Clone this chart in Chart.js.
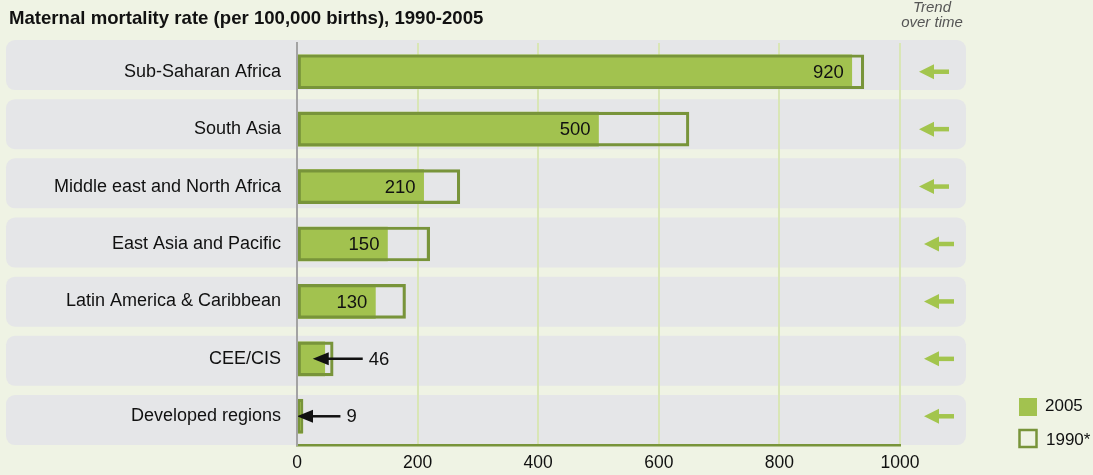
<!DOCTYPE html>
<html>
<head>
<meta charset="utf-8">
<script src="https://cdn.jsdelivr.net/npm/chart.js@4.4.1/dist/chart.umd.min.js"></script>
<style>
  html, body { margin: 0; padding: 0; background: #eff3e4; }
  #wrap { width: 1093px; height: 475px; position: relative; }
</style>
</head>
<body>
<div id="wrap"><canvas id="chart-mmr"></canvas></div>
<script>
/* ---- Data ---------------------------------------------------------------- */

const regions = [
  "Sub-Saharan Africa",
  "South Asia",
  "Middle east and North Africa",
  "East Asia and Pacific",
  "Latin America & Caribbean",
  "CEE/CIS",
  "Developed regions",
];
const rate2005 = [920, 500, 210, 150, 130, 46, 9];
const rate1990 = [940, 650, 270, 220, 180, 60, 10];
// -1 = falling since 1990 (arrow points left)
const trendDir = [-1, -1, -1, -1, -1, -1, -1];
const xTicks = [0, 200, 400, 600, 800, 1000];

const TITLE = "Maternal mortality rate (per 100,000 births), 1990-2005";

/* ---- Palette -------------------------------------------------------------- */

const C = {
  page: "#eff3e4",
  row: "#e5e6e8",
  fill: "#a2c24f",
  edge: "#78943a",
  grid: "#d9e6b6",
  axis: "#a3a3a3",
  trend: "#a3c54d",
  ink: "#111111",
  soft: "#555555",
};
const FONT = "'Liberation Sans', Arial, Helvetica, sans-serif";

/* ---- Plugins -------------------------------------------------------------- */

// page background, rounded row panels, title and trend header
const backdrop = {
  id: "backdrop",
  beforeDraw(chart) {
    const { ctx, width, height, scales } = chart;
    const y = scales.y;
    ctx.save();
    ctx.fillStyle = C.page;
    ctx.fillRect(0, 0, width, height);

    ctx.fillStyle = C.row;
    regions.forEach((_, i) => {
      const cy = y.getPixelForValue(i) - 6.7 + 1.74 * i;
      ctx.beginPath();
      ctx.roundRect(6, cy - 25, 960, 50, 9);
      ctx.fill();
    });

    ctx.fillStyle = C.ink;
    ctx.font = "bold 18.6px " + FONT;
    ctx.textBaseline = "alphabetic";
    ctx.textAlign = "left";
    ctx.fillText(TITLE, 9, 24);

    ctx.fillStyle = C.soft;
    ctx.font = "italic 15px " + FONT;
    ctx.textAlign = "center";
    ctx.fillText("Trend", 932, 12);
    ctx.fillText("over time", 932, 27);
    ctx.restore();
  },
};

function arrowLeft(ctx, tipX, tailX, cy, headLen, headHalf, shaft, color) {
  ctx.fillStyle = color;
  ctx.strokeStyle = color;
  ctx.lineWidth = shaft;
  ctx.beginPath();
  ctx.moveTo(tipX + headLen - 2, cy);
  ctx.lineTo(tailX, cy);
  ctx.stroke();
  ctx.beginPath();
  ctx.moveTo(tipX, cy);
  ctx.lineTo(tipX + headLen, cy - headHalf);
  ctx.lineTo(tipX + headLen, cy + headHalf);
  ctx.closePath();
  ctx.fill();
}

// value labels, pointer arrows for short bars, trend arrows, legend
const annotations = {
  id: "annotations",
  afterDatasetsDraw(chart) {
    const { ctx, scales } = chart;
    const x = scales.x;
    const meta = chart.getDatasetMeta(0);
    const x0 = x.getPixelForValue(0);
    ctx.save();
    ctx.font = "18.5px " + FONT;
    ctx.textBaseline = "middle";

    meta.data.forEach((bar, i) => {
      const v = rate2005[i];
      const end = bar.x;
      const cy = bar.y;
      ctx.fillStyle = C.ink;
      if (v >= 100) {
        ctx.textAlign = "right";
        ctx.fillText(String(v), end - 8, cy + 1);
      } else {
        const tx = end + 44;
        const tip = Math.max(x0, end - 12);
        arrowLeft(ctx, tip, tx - 6, cy, 16, 6.5, 2.5, C.ink);
        ctx.fillStyle = C.ink;
        ctx.textAlign = "left";
        ctx.fillText(String(v), tx, cy + 1);
      }
    });

    // trend column
    meta.data.forEach((bar, i) => {
      const cy = bar.y;
      const shift = i > 2 ? 5 : 0;
      if (trendDir[i] < 0) {
        arrowLeft(ctx, 919 + shift, 949 + shift, cy, 15, 7.5, 4.5, C.trend);
      }
    });

    // legend
    ctx.fillStyle = C.fill;
    ctx.fillRect(1019, 398, 18, 18);
    ctx.strokeStyle = C.edge;
    ctx.lineWidth = 2.5;
    ctx.strokeRect(1019.5, 430, 17, 17);
    ctx.fillStyle = C.ink;
    ctx.font = "17px " + FONT;
    ctx.textAlign = "left";
    ctx.fillText("2005", 1045, 406);
    ctx.fillText("1990*", 1046, 440);
    ctx.restore();
  },
};

/* ---- Chart ---------------------------------------------------------------- */

const ctx = document.getElementById("chart-mmr").getContext("2d");

new Chart(ctx, {
  type: "bar",
  data: {
    labels: regions,
    datasets: [
      {
        label: "2005",
        data: rate2005,
        backgroundColor: C.fill,
        borderWidth: 0,
        barThickness: 34,
        grouped: false,
        order: 2,
      },
      {
        label: "1990*",
        data: rate1990,
        backgroundColor: "rgba(0,0,0,0)",
        borderColor: C.edge,
        borderWidth: 2.5,
        borderSkipped: false,
        barThickness: 34,
        grouped: false,
        order: 1,
      },
    ],
  },
  options: {
    indexAxis: "y",
    responsive: true,
    maintainAspectRatio: false,
    animation: false,
    layout: { padding: { top: 43, right: 193, bottom: 0, left: 0 } },
    plugins: {
      legend: { display: false },
      tooltip: { enabled: false },
    },
    scales: {
      x: {
        min: 0,
        max: 1000,
        afterBuildTicks: (scale) => {
          scale.ticks = xTicks.map((v) => ({ value: v }));
        },
        afterFit: (scale) => {
          scale.height = 30;
        },
        grid: {
          color: (c) => (c.tick && c.tick.value === 0 ? "rgba(0,0,0,0)" : C.grid),
          lineWidth: 2,
          drawTicks: false,
        },
        border: { display: true, color: C.edge, width: 2.5 },
        ticks: {
          color: C.ink,
          padding: 8,
          maxRotation: 0,
          font: { family: FONT, size: 17.5 },
          callback: (v) => String(v),
        },
      },
      y: {
        afterFit: (scale) => {
          scale.width = 297;
        },
        grid: { display: false, drawTicks: false },
        border: { display: true, color: C.axis, width: 2, z: 1 },
        ticks: {
          color: C.ink,
          padding: 16,
          font: { family: FONT, size: 18 },
        },
      },
    },
  },
  plugins: [backdrop, annotations],
});
</script>
</body>
</html>
